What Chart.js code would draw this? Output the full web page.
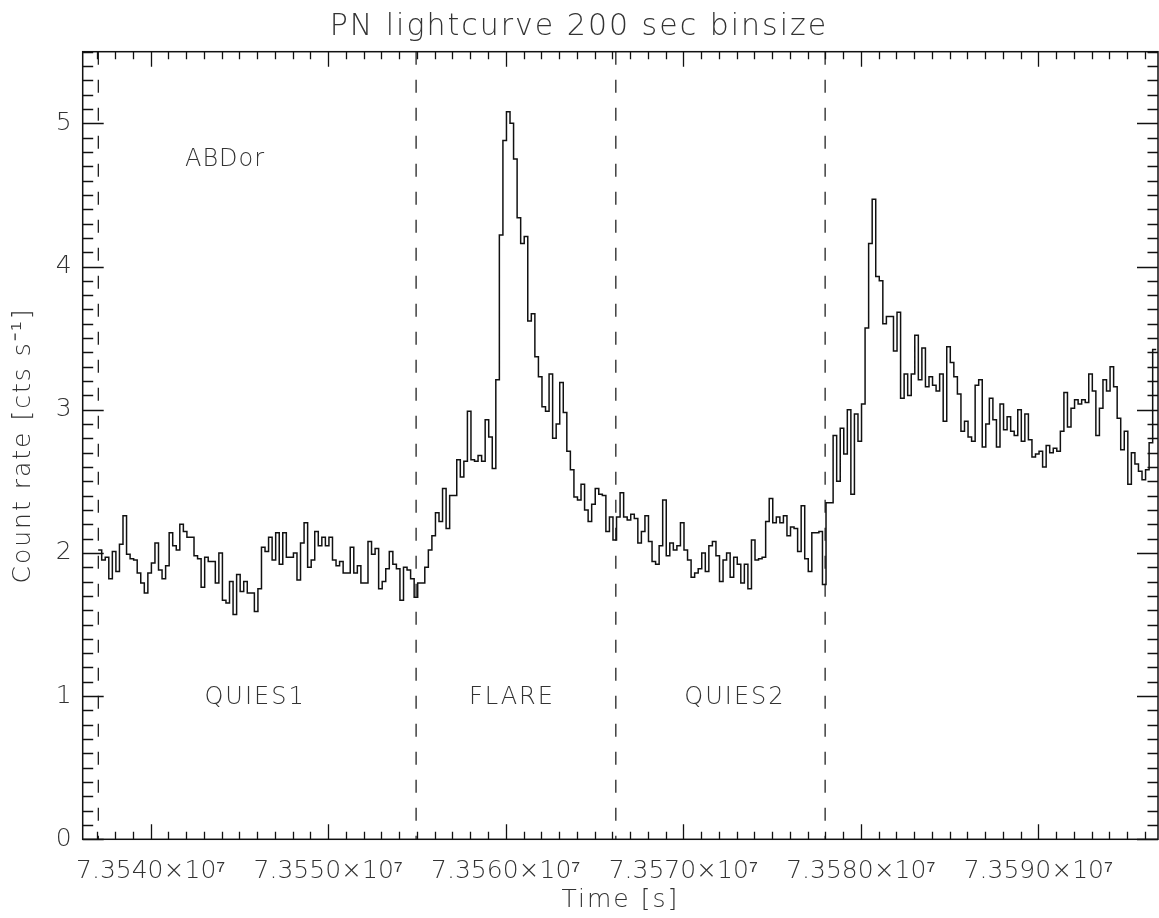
<!DOCTYPE html>
<html>
<head>
<meta charset="utf-8">
<script src="https://cdn.jsdelivr.net/npm/chart.js@4/dist/chart.umd.min.js"></script>
<style>
  html, body { margin: 0; padding: 0; background: #fff; }
  #wrap { width: 1159px; height: 918px; }
</style>
</head>
<body>
<div id="wrap"><canvas id="lc"></canvas></div>
<script>
// light curve, 200 s bins, start of first bin
const binStart = 73537040;
const binSize = 200;
const rates = [
  2.02, 1.95, 1.97, 1.82, 2.01, 1.87, 2.06, 2.26, 1.99, 1.96,
  1.95, 1.86, 1.79, 1.72, 1.86, 1.93, 2.07, 1.88, 1.82, 1.91,
  2.14, 2.05, 2.02, 2.20, 2.15, 2.11, 2.11, 1.98, 1.96, 1.76,
  1.97, 1.94, 1.94, 1.79, 2.00, 1.67, 1.65, 1.80, 1.57, 1.85,
  1.73, 1.80, 1.72, 1.72, 1.59, 1.75, 2.04, 2.01, 2.11, 1.95,
  2.14, 1.92, 2.14, 1.97, 1.97, 2.00, 1.81, 2.07, 2.21, 1.90,
  1.95, 2.15, 2.05, 2.11, 2.05, 2.11, 1.95, 1.91, 1.94, 1.86,
  1.86, 2.04, 1.86, 1.91, 1.79, 1.79, 2.08, 1.99, 2.03, 1.75,
  1.80, 1.89, 2.01, 1.92, 1.89, 1.67, 1.90, 1.88, 1.82, 1.69,
  1.79, 1.79, 1.90, 2.02, 2.12, 2.28, 2.22, 2.45, 2.17, 2.40,
  2.40, 2.65, 2.53, 2.64, 2.99, 2.65, 2.64, 2.68, 2.64, 2.93,
  2.81, 2.59, 3.21, 4.22, 4.88, 5.08, 5.00, 4.75, 4.34, 4.16,
  4.21, 3.62, 3.67, 3.37, 3.23, 3.02, 2.99, 3.25, 2.80, 2.90,
  3.19, 2.98, 2.71, 2.58, 2.39, 2.37, 2.48, 2.30, 2.22, 2.34,
  2.45, 2.41, 2.40, 2.15, 2.25, 2.09, 2.25, 2.42, 2.25, 2.23,
  2.27, 2.24, 2.07, 2.15, 2.26, 2.08, 1.94, 1.92, 2.05, 2.37,
  1.98, 2.07, 2.02, 2.05, 2.21, 2.02, 1.95, 1.83, 1.86, 1.89,
  2.00, 1.87, 2.05, 2.08, 1.98, 1.80, 1.95, 2.00, 1.83, 1.97,
  1.92, 1.79, 1.92, 1.75, 2.09, 1.95, 1.96, 1.97, 2.22, 2.38,
  2.21, 2.25, 2.21, 2.26, 2.12, 2.18, 2.17, 2.01, 2.33, 1.96,
  1.87, 2.14, 2.14, 2.15, 1.78, 2.35, 2.35, 2.82, 2.50, 2.87,
  2.69, 3.00, 2.41, 2.97, 2.78, 3.04, 3.57, 4.16, 4.47, 3.93,
  3.90, 3.60, 3.65, 3.65, 3.41, 3.68, 3.08, 3.25, 3.10, 3.25,
  3.52, 3.21, 3.43, 3.16, 3.23, 3.17, 3.13, 3.25, 2.92, 3.44,
  3.33, 3.23, 3.11, 2.85, 2.92, 2.81, 2.78, 3.17, 3.21, 2.74,
  2.90, 3.08, 2.93, 2.74, 3.04, 2.86, 2.95, 2.85, 2.82, 3.00,
  2.78, 2.97, 2.79, 2.67, 2.69, 2.71, 2.60, 2.75, 2.70, 2.73,
  2.71, 2.85, 3.12, 2.88, 3.01, 3.07, 3.04, 3.07, 3.05, 3.25,
  3.13, 2.82, 3.01, 3.21, 3.13, 3.30, 3.16, 2.94, 2.72, 2.85,
  2.48, 2.70, 2.62, 2.57, 2.51, 2.58, 2.77, 3.42
];

// interval boundaries (dashed lines)
const intervalEdges = [73537050, 73554950, 73566200, 73577990];

// x tick values and y tick values
const xTicks = [73540000, 73550000, 73560000, 73570000, 73580000, 73590000];
const yTicks = [0, 1, 2, 3, 4, 5];

// annotations
const noteTexts = ['ABDor', 'QUIES1', 'FLARE', 'QUIES2'];
const noteTimes = [73541930, 73545880, 73560350, 73572910];
const noteRates = [4.70, 0.945, 0.945, 0.945];

const xMin = 73536170, xMax = 73596740;
const yMin = 0, yMax = 5.5;

const FONT = "'DejaVu Sans', sans-serif";
const TXT = '#333';

// step points: value held until the next bin start
const steps = rates.map((r, i) => ({x: binStart + i * binSize, y: r}));
steps.push({x: binStart + rates.length * binSize, y: rates[rates.length - 1]});

const datasets = [{
  data: steps,
  stepped: 'before',
  borderColor: '#111',
  borderWidth: 1.5,
  pointRadius: 0,
  fill: false
}];
intervalEdges.forEach(t => {
  datasets.push({
    data: [{x: t, y: yMax}, {x: t, y: yMin}],
    borderColor: '#222',
    borderWidth: 1.3,
    borderDash: [13, 15],
    pointRadius: 0,
    fill: false
  });
});

// wider spacing for the titles (drawn before the datasets)
const spacing = {
  id: 'spacing',
  beforeDraw(chart) { chart.ctx.letterSpacing = '2px'; },
  beforeDatasetsDraw(chart) { chart.ctx.letterSpacing = '0px'; }
};

// inward ticks on all four sides, IDL style
const frameTicks = {
  id: 'frameTicks',
  afterDatasetsDraw(chart) {
    const {ctx, chartArea: a, scales: {x, y}} = chart;
    ctx.save();
    ctx.strokeStyle = '#111';
    ctx.lineWidth = 1.3;
    ctx.beginPath();
    for (let t = Math.ceil(x.min / 1000) * 1000; t <= x.max; t += 1000) {
      const px = Math.round(x.getPixelForValue(t)) + 0.5;
      const len = (t % 10000 === 0) ? 15 : 7.5;
      ctx.moveTo(px, a.bottom); ctx.lineTo(px, a.bottom - len);
      ctx.moveTo(px, a.top); ctx.lineTo(px, a.top + len);
    }
    for (let i = 0; i <= 55; i++) {
      const py = Math.round(y.getPixelForValue(i / 10)) + 0.5;
      const len = (i % 10 === 0) ? 21 : 10.5;
      ctx.moveTo(a.left, py); ctx.lineTo(a.left + len, py);
      ctx.moveTo(a.right, py); ctx.lineTo(a.right - len, py);
    }
    ctx.stroke();
    ctx.lineWidth = 1.5;
    ctx.strokeRect(a.left, a.top, a.right - a.left, a.bottom - a.top);

    ctx.fillStyle = TXT;
    ctx.font = '200 24px ' + FONT;
    noteTexts.forEach((s, i) => {
      ctx.letterSpacing = i === 0 ? '1px' : '2px';
      ctx.textAlign = i === 0 ? 'left' : 'center';
      ctx.textBaseline = 'alphabetic';
      ctx.fillText(s, x.getPixelForValue(noteTimes[i]), y.getPixelForValue(noteRates[i]));
    });
    ctx.restore();
    ctx.letterSpacing = '0px';
  }
};

new Chart(document.getElementById('lc'), {
  type: 'line',
  data: {datasets},
  options: {
    responsive: true,
    maintainAspectRatio: false,
    animation: false,
    layout: {padding: {left: 0, right: 1, top: 0, bottom: 0}},
    plugins: {
      legend: {display: false},
      tooltip: {enabled: false},
      title: {
        display: true,
        text: 'PN lightcurve 200 sec binsize',
        color: TXT,
        font: {family: FONT, size: 30, weight: '200'},
        padding: {top: 9, bottom: 6.7}
      }
    },
    scales: {
      x: {
        type: 'linear',
        min: xMin,
        max: xMax,
        grid: {display: false, drawTicks: false},
        border: {display: false},
        afterBuildTicks: s => { s.ticks = xTicks.map(v => ({value: v})); },
        ticks: {
          z: 1,
          autoSkip: false,
          maxRotation: 0,
          padding: 17,
          color: TXT,
          font: {family: FONT, size: 25, weight: '200'},
          callback: v => (v / 1e7).toFixed(4) + '×10⁷'
        },
        title: {
          display: true,
          text: 'Time [s]',
          color: TXT,
          font: {family: FONT, size: 25, weight: '200'},
          padding: {top: 0, bottom: 3}
        },
        afterFit: s => { s.height = 78.7; }
      },
      y: {
        min: yMin,
        max: yMax,
        grid: {display: false, drawTicks: false},
        border: {display: false},
        afterBuildTicks: s => { s.ticks = yTicks.map(v => ({value: v})); },
        ticks: {
          z: 1,
          padding: 11,
          color: TXT,
          font: {family: FONT, size: 25, weight: '200'},
          callback: v => String(v)
        },
        title: {
          display: true,
          text: 'Count rate [cts s⁻¹]',
          color: TXT,
          font: {family: FONT, size: 25, weight: '200'},
          padding: {top: 8, bottom: 0}
        },
        afterFit: s => { s.width = 82.7; }
      }
    }
  },
  plugins: [spacing, frameTicks]
});
</script>
</body>
</html>
